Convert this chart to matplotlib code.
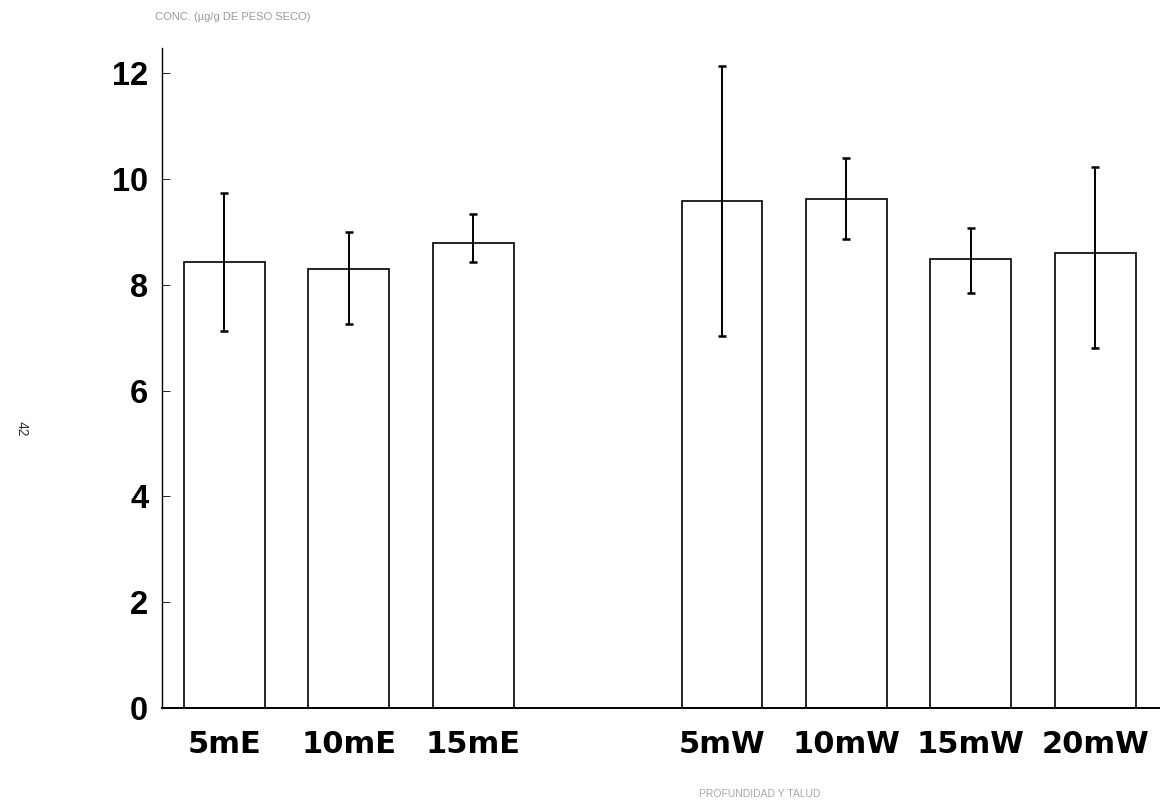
import matplotlib.pyplot as plt

LABELS = ['5mE', '10mE', '15mE', '5mW', '10mW', '15mW', '20mW']
POSITIONS = [0, 1, 2, 4, 5, 6, 7]
MEANS = [8.43, 8.30, 8.79, 9.59, 9.62, 8.49, 8.60]
ERR_LOW = [7.13, 7.26, 8.43, 7.03, 8.87, 7.85, 6.81]
ERR_HIGH = [9.73, 9.00, 9.34, 12.14, 10.40, 9.07, 10.23]
YTICKS = [0, 2, 4, 6, 8, 10, 12]

plt.rcParams['font.family'] = ['Liberation Sans', 'DejaVu Sans']

fig = plt.figure(figsize=(11.6, 8.09), dpi=100)
ax = fig.add_axes([0.1397, 0.1248, 0.8603, 0.816])

yerr = [[m - lo for m, lo in zip(MEANS, ERR_LOW)],
        [hi - m for m, hi in zip(MEANS, ERR_HIGH)]]
ax.bar(POSITIONS, MEANS, width=0.65, color='white', edgecolor='black',
       linewidth=1.2, zorder=2)
ax.errorbar(POSITIONS, MEANS, yerr=yerr, fmt='none', ecolor='black',
            elinewidth=1.4, capsize=3, capthick=1.8, zorder=3)

ax.set_xlim(-0.5, 7.52)
ax.set_ylim(0, 12.48)
ax.set_yticks(YTICKS)
ax.set_yticklabels([str(v) for v in YTICKS], fontsize=23.5, fontweight='bold')
ax.set_xticks(POSITIONS)
ax.set_xticklabels(LABELS, fontsize=22, fontweight='bold',
                   family='DejaVu Sans')
ax.tick_params(axis='y', direction='in', length=6, width=0.6, pad=10,
               colors='black')
ax.tick_params(axis='x', length=0, pad=16)

for side in ('top', 'right'):
    ax.spines[side].set_visible(False)
ax.spines['left'].set_linewidth(1.0)
ax.spines['bottom'].set_linewidth(1.4)

fig.text(0.134, 0.985, 'CONC. (µg/g DE PESO SECO)', fontsize=8,
         color='#9a9a9a', va='top', ha='left')
fig.text(0.655, 0.018, 'PROFUNDIDAD Y TALUD', fontsize=7.5,
         color='#a8a8a8', ha='center', va='center')
fig.text(0.019, 0.47, '42', fontsize=10, rotation=-90, ha='center',
         va='center', color='#333333')

fig.savefig('out.png', dpi=100)
